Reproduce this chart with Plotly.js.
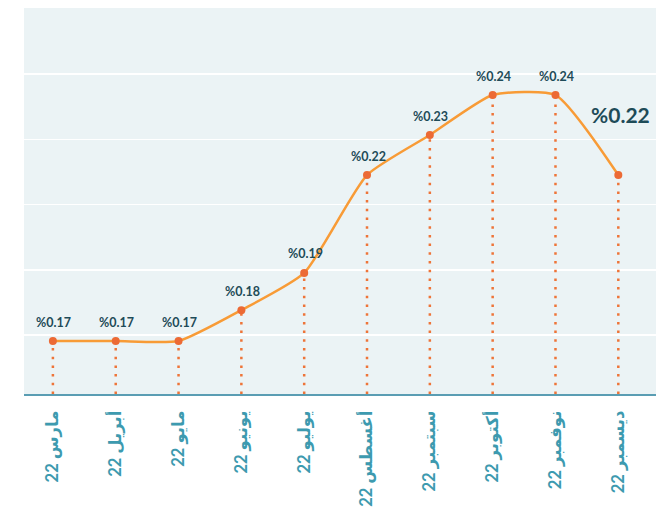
<!DOCTYPE html>
<html>
<head>
<meta charset="utf-8">
<script src="https://cdn.plot.ly/plotly-3.0.1.min.js"></script>
<style>html,body{margin:0;padding:0;background:#fff;}#chart{width:656px;height:509px;}</style>
</head>
<body>
<div id="chart"></div>
<script>
// Data
var months = ["مارس 22", "أبريل 22", "مايو 22", "يونيو 22", "يوليو 22", "أغسطس 22", "سبتمبر 22", "أكتوبر 22", "نوفمبر 22", "ديسمبر 22"];
var rates = [0.1700, 0.1700, 0.1700, 0.1788, 0.1894, 0.2173, 0.2287, 0.2401, 0.2401, 0.2173];
var rateLabels = ["%0.17", "%0.17", "%0.17", "%0.18", "%0.19", "%0.22", "%0.23", "%0.24", "%0.24", "%0.22"];

var yMin = 0.1549, yMax = 0.2649;
var xIdx = months.map(function (m, i) { return i; });

// dotted drop lines, built from the data arrays
var dropX = [], dropY = [];
rates.forEach(function (v, i) {
  dropX.push(i, i, null);
  dropY.push(yMin, v, null);
});

var font = "Lato, 'Noto Sans', 'DejaVu Sans', sans-serif";
var last = rates.length - 1;

var traces = [
  {
    x: dropX, y: dropY, type: 'scatter', mode: 'lines',
    line: { color: '#EE7438', width: 2.5, dash: '2.5px,6.2px' },
    hoverinfo: 'skip', cliponaxis: false
  },
  {
    x: xIdx, y: rates, type: 'scatter', mode: 'lines',
    line: { color: '#F89B36', width: 2.5, shape: 'spline', smoothing: 0.55 },
    hoverinfo: 'skip'
  },
  {
    x: xIdx, y: rates, type: 'scatter', mode: 'markers',
    marker: { color: '#EC6A35', size: 8 },
    hoverinfo: 'skip'
  }
];

var annotations = rates.map(function (v, i) {
  var isLast = i === last;
  return {
    x: xIdx[i], y: v, xref: 'x', yref: 'y',
    text: rateLabels[i], showarrow: false,
    yshift: isLast ? 61 : 19, xshift: isLast ? 2 : 1,
    font: { family: font, size: isLast ? 21 : 12.5, color: '#1E4B58', weight: 'bold' }
  };
});

var layout = {
  width: 656, height: 509,
  margin: { l: 24, r: 0, t: 8, b: 115 },
  paper_bgcolor: '#FFFFFF',
  plot_bgcolor: '#EBF3F5',
  showlegend: false,
  font: { family: font },
  xaxis: {
    type: 'linear',
    range: [-0.46, 9.6],
    tickmode: 'array',
    tickvals: xIdx,
    ticktext: months,
    tickangle: -90,
    ticks: '',
    ticklabelstandoff: 8,
    tickfont: { family: font, size: 16.5, color: '#3D9AAF', weight: 'bold' },
    showgrid: false,
    zeroline: false,
    showline: true,
    linecolor: '#5A9DB3',
    linewidth: 2,
    fixedrange: true
  },
  yaxis: {
    range: [yMin, yMax],
    tick0: 0.24607,
    dtick: 0.018604,
    showticklabels: false,
    ticks: '',
    showgrid: true,
    gridcolor: '#FFFFFF',
    gridwidth: 1.5,
    zeroline: false,
    showline: false,
    fixedrange: true
  },
  annotations: annotations
};

Plotly.newPlot('chart', traces, layout, { displayModeBar: false, staticPlot: true });
</script>
</body>
</html>
